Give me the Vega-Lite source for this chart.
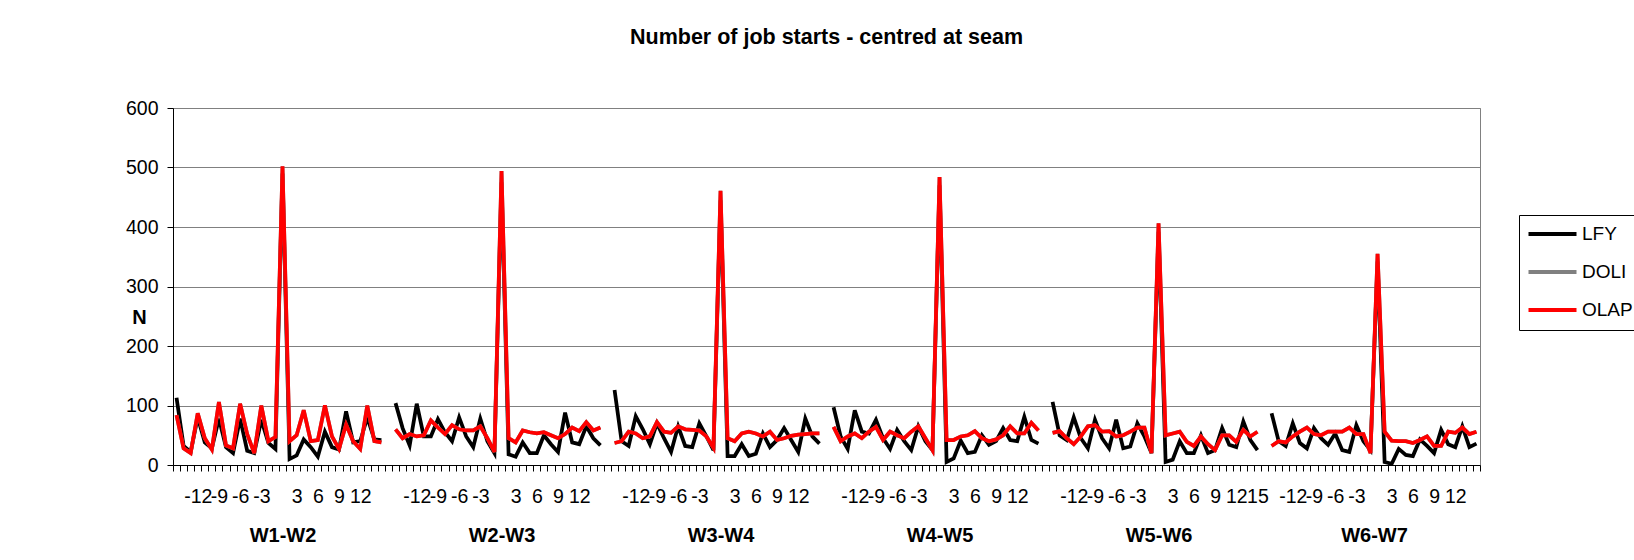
{
  "$schema": "https://vega.github.io/schema/vega-lite/v6.json",
  "width": 1307,
  "height": 357,
  "autosize": {"type": "none"},
  "padding": {"left": 173, "top": 108, "right": 154, "bottom": 95},
  "background": "white",
  "title": {
    "text": "Number of job starts - centred at seam",
    "fontSize": 21.5,
    "fontWeight": "bold",
    "font": "Liberation Sans",
    "color": "black",
    "anchor": "middle",
    "frame": "group",
    "offset": 50
  },
  "data": {
    "values": [
      {"g":"W1-W2","i":0,"LFY":113,"DOLI":84,"OLAP":84},
      {"g":"W1-W2","i":1,"LFY":32,"DOLI":28,"OLAP":28},
      {"g":"W1-W2","i":2,"LFY":22,"DOLI":20,"OLAP":20},
      {"g":"W1-W2","i":3,"LFY":80,"DOLI":87,"OLAP":87},
      {"g":"W1-W2","i":4,"LFY":38,"DOLI":45,"OLAP":45},
      {"g":"W1-W2","i":5,"LFY":28,"DOLI":26,"OLAP":26},
      {"g":"W1-W2","i":6,"LFY":78,"DOLI":106,"OLAP":106},
      {"g":"W1-W2","i":7,"LFY":30,"DOLI":33,"OLAP":33},
      {"g":"W1-W2","i":8,"LFY":20,"DOLI":28,"OLAP":28},
      {"g":"W1-W2","i":9,"LFY":78,"DOLI":103,"OLAP":103},
      {"g":"W1-W2","i":10,"LFY":24,"DOLI":52,"OLAP":52},
      {"g":"W1-W2","i":11,"LFY":20,"DOLI":20,"OLAP":20},
      {"g":"W1-W2","i":12,"LFY":76,"DOLI":100,"OLAP":100},
      {"g":"W1-W2","i":13,"LFY":37,"DOLI":40,"OLAP":40},
      {"g":"W1-W2","i":14,"LFY":27,"DOLI":47,"OLAP":47},
      {"g":"W1-W2","i":15,"LFY":490,"DOLI":502,"OLAP":502},
      {"g":"W1-W2","i":16,"LFY":10,"DOLI":40,"OLAP":40},
      {"g":"W1-W2","i":17,"LFY":16,"DOLI":50,"OLAP":50},
      {"g":"W1-W2","i":18,"LFY":43,"DOLI":92,"OLAP":92},
      {"g":"W1-W2","i":19,"LFY":30,"DOLI":40,"OLAP":40},
      {"g":"W1-W2","i":20,"LFY":14,"DOLI":42,"OLAP":42},
      {"g":"W1-W2","i":21,"LFY":56,"DOLI":100,"OLAP":100},
      {"g":"W1-W2","i":22,"LFY":30,"DOLI":48,"OLAP":48},
      {"g":"W1-W2","i":23,"LFY":26,"DOLI":27,"OLAP":27},
      {"g":"W1-W2","i":24,"LFY":90,"DOLI":68,"OLAP":68},
      {"g":"W1-W2","i":25,"LFY":38,"DOLI":40,"OLAP":40},
      {"g":"W1-W2","i":26,"LFY":40,"DOLI":27,"OLAP":27},
      {"g":"W1-W2","i":27,"LFY":80,"DOLI":100,"OLAP":100},
      {"g":"W1-W2","i":28,"LFY":43,"DOLI":40,"OLAP":40},
      {"g":"W1-W2","i":29,"LFY":42,"DOLI":38,"OLAP":38},
      {"g":"W2-W3","i":31,"LFY":104,"DOLI":60,"OLAP":60},
      {"g":"W2-W3","i":32,"LFY":62,"DOLI":45,"OLAP":45},
      {"g":"W2-W3","i":33,"LFY":33,"DOLI":52,"OLAP":52},
      {"g":"W2-W3","i":34,"LFY":103,"DOLI":48,"OLAP":48},
      {"g":"W2-W3","i":35,"LFY":48,"DOLI":50,"OLAP":50},
      {"g":"W2-W3","i":36,"LFY":48,"DOLI":75,"OLAP":75},
      {"g":"W2-W3","i":37,"LFY":77,"DOLI":63,"OLAP":63},
      {"g":"W2-W3","i":38,"LFY":55,"DOLI":52,"OLAP":52},
      {"g":"W2-W3","i":39,"LFY":40,"DOLI":67,"OLAP":67},
      {"g":"W2-W3","i":40,"LFY":80,"DOLI":60,"OLAP":60},
      {"g":"W2-W3","i":41,"LFY":48,"DOLI":58,"OLAP":58},
      {"g":"W2-W3","i":42,"LFY":30,"DOLI":58,"OLAP":58},
      {"g":"W2-W3","i":43,"LFY":78,"DOLI":65,"OLAP":65},
      {"g":"W2-W3","i":44,"LFY":40,"DOLI":45,"OLAP":45},
      {"g":"W2-W3","i":45,"LFY":20,"DOLI":22,"OLAP":22},
      {"g":"W2-W3","i":46,"LFY":475,"DOLI":494,"OLAP":494},
      {"g":"W2-W3","i":47,"LFY":18,"DOLI":45,"OLAP":45},
      {"g":"W2-W3","i":48,"LFY":14,"DOLI":38,"OLAP":38},
      {"g":"W2-W3","i":49,"LFY":38,"DOLI":58,"OLAP":58},
      {"g":"W2-W3","i":50,"LFY":20,"DOLI":55,"OLAP":55},
      {"g":"W2-W3","i":51,"LFY":20,"DOLI":53,"OLAP":53},
      {"g":"W2-W3","i":52,"LFY":50,"DOLI":55,"OLAP":55},
      {"g":"W2-W3","i":53,"LFY":35,"DOLI":50,"OLAP":50},
      {"g":"W2-W3","i":54,"LFY":22,"DOLI":45,"OLAP":45},
      {"g":"W2-W3","i":55,"LFY":88,"DOLI":52,"OLAP":52},
      {"g":"W2-W3","i":56,"LFY":38,"DOLI":63,"OLAP":63},
      {"g":"W2-W3","i":57,"LFY":35,"DOLI":57,"OLAP":57},
      {"g":"W2-W3","i":58,"LFY":65,"DOLI":72,"OLAP":72},
      {"g":"W2-W3","i":59,"LFY":45,"DOLI":58,"OLAP":58},
      {"g":"W2-W3","i":60,"LFY":33,"DOLI":63,"OLAP":63},
      {"g":"W3-W4","i":62,"LFY":126,"DOLI":37,"OLAP":37},
      {"g":"W3-W4","i":63,"LFY":40,"DOLI":40,"OLAP":40},
      {"g":"W3-W4","i":64,"LFY":32,"DOLI":56,"OLAP":56},
      {"g":"W3-W4","i":65,"LFY":82,"DOLI":53,"OLAP":53},
      {"g":"W3-W4","i":66,"LFY":60,"DOLI":45,"OLAP":45},
      {"g":"W3-W4","i":67,"LFY":35,"DOLI":48,"OLAP":48},
      {"g":"W3-W4","i":68,"LFY":70,"DOLI":72,"OLAP":72},
      {"g":"W3-W4","i":69,"LFY":45,"DOLI":56,"OLAP":56},
      {"g":"W3-W4","i":70,"LFY":22,"DOLI":54,"OLAP":54},
      {"g":"W3-W4","i":71,"LFY":65,"DOLI":65,"OLAP":65},
      {"g":"W3-W4","i":72,"LFY":32,"DOLI":60,"OLAP":60},
      {"g":"W3-W4","i":73,"LFY":30,"DOLI":59,"OLAP":59},
      {"g":"W3-W4","i":74,"LFY":70,"DOLI":58,"OLAP":58},
      {"g":"W3-W4","i":75,"LFY":48,"DOLI":48,"OLAP":48},
      {"g":"W3-W4","i":76,"LFY":25,"DOLI":29,"OLAP":29},
      {"g":"W3-W4","i":77,"LFY":445,"DOLI":461,"OLAP":461},
      {"g":"W3-W4","i":78,"LFY":15,"DOLI":45,"OLAP":45},
      {"g":"W3-W4","i":79,"LFY":15,"DOLI":40,"OLAP":40},
      {"g":"W3-W4","i":80,"LFY":35,"DOLI":53,"OLAP":53},
      {"g":"W3-W4","i":81,"LFY":15,"DOLI":56,"OLAP":56},
      {"g":"W3-W4","i":82,"LFY":19,"DOLI":53,"OLAP":53},
      {"g":"W3-W4","i":83,"LFY":53,"DOLI":48,"OLAP":48},
      {"g":"W3-W4","i":84,"LFY":30,"DOLI":56,"OLAP":56},
      {"g":"W3-W4","i":85,"LFY":42,"DOLI":42,"OLAP":42},
      {"g":"W3-W4","i":86,"LFY":62,"DOLI":45,"OLAP":45},
      {"g":"W3-W4","i":87,"LFY":42,"DOLI":49,"OLAP":49},
      {"g":"W3-W4","i":88,"LFY":22,"DOLI":51,"OLAP":51},
      {"g":"W3-W4","i":89,"LFY":78,"DOLI":52,"OLAP":52},
      {"g":"W3-W4","i":90,"LFY":48,"DOLI":53,"OLAP":53},
      {"g":"W3-W4","i":91,"LFY":36,"DOLI":53,"OLAP":53},
      {"g":"W4-W5","i":93,"LFY":97,"DOLI":64,"OLAP":64},
      {"g":"W4-W5","i":94,"LFY":48,"DOLI":40,"OLAP":40},
      {"g":"W4-W5","i":95,"LFY":27,"DOLI":48,"OLAP":48},
      {"g":"W4-W5","i":96,"LFY":92,"DOLI":53,"OLAP":53},
      {"g":"W4-W5","i":97,"LFY":56,"DOLI":45,"OLAP":45},
      {"g":"W4-W5","i":98,"LFY":53,"DOLI":56,"OLAP":56},
      {"g":"W4-W5","i":99,"LFY":76,"DOLI":64,"OLAP":64},
      {"g":"W4-W5","i":100,"LFY":45,"DOLI":42,"OLAP":42},
      {"g":"W4-W5","i":101,"LFY":27,"DOLI":56,"OLAP":56},
      {"g":"W4-W5","i":102,"LFY":59,"DOLI":50,"OLAP":50},
      {"g":"W4-W5","i":103,"LFY":40,"DOLI":45,"OLAP":45},
      {"g":"W4-W5","i":104,"LFY":25,"DOLI":56,"OLAP":56},
      {"g":"W4-W5","i":105,"LFY":65,"DOLI":65,"OLAP":65},
      {"g":"W4-W5","i":106,"LFY":40,"DOLI":45,"OLAP":45},
      {"g":"W4-W5","i":107,"LFY":25,"DOLI":25,"OLAP":25},
      {"g":"W4-W5","i":108,"LFY":470,"DOLI":484,"OLAP":484},
      {"g":"W4-W5","i":109,"LFY":5,"DOLI":42,"OLAP":42},
      {"g":"W4-W5","i":110,"LFY":11,"DOLI":42,"OLAP":42},
      {"g":"W4-W5","i":111,"LFY":41,"DOLI":48,"OLAP":48},
      {"g":"W4-W5","i":112,"LFY":20,"DOLI":50,"OLAP":50},
      {"g":"W4-W5","i":113,"LFY":22,"DOLI":57,"OLAP":57},
      {"g":"W4-W5","i":114,"LFY":50,"DOLI":45,"OLAP":45},
      {"g":"W4-W5","i":115,"LFY":34,"DOLI":40,"OLAP":40},
      {"g":"W4-W5","i":116,"LFY":40,"DOLI":43,"OLAP":43},
      {"g":"W4-W5","i":117,"LFY":62,"DOLI":50,"OLAP":50},
      {"g":"W4-W5","i":118,"LFY":42,"DOLI":65,"OLAP":65},
      {"g":"W4-W5","i":119,"LFY":40,"DOLI":53,"OLAP":53},
      {"g":"W4-W5","i":120,"LFY":81,"DOLI":53,"OLAP":53},
      {"g":"W4-W5","i":121,"LFY":42,"DOLI":71,"OLAP":71},
      {"g":"W4-W5","i":122,"LFY":36,"DOLI":58,"OLAP":58},
      {"g":"W5-W6","i":124,"LFY":106,"DOLI":54,"OLAP":54},
      {"g":"W5-W6","i":125,"LFY":50,"DOLI":57,"OLAP":57},
      {"g":"W5-W6","i":126,"LFY":42,"DOLI":45,"OLAP":45},
      {"g":"W5-W6","i":127,"LFY":80,"DOLI":35,"OLAP":35},
      {"g":"W5-W6","i":128,"LFY":45,"DOLI":48,"OLAP":48},
      {"g":"W5-W6","i":129,"LFY":28,"DOLI":65,"OLAP":65},
      {"g":"W5-W6","i":130,"LFY":76,"DOLI":67,"OLAP":67},
      {"g":"W5-W6","i":131,"LFY":45,"DOLI":56,"OLAP":56},
      {"g":"W5-W6","i":132,"LFY":28,"DOLI":57,"OLAP":57},
      {"g":"W5-W6","i":133,"LFY":76,"DOLI":48,"OLAP":48},
      {"g":"W5-W6","i":134,"LFY":28,"DOLI":50,"OLAP":50},
      {"g":"W5-W6","i":135,"LFY":31,"DOLI":56,"OLAP":56},
      {"g":"W5-W6","i":136,"LFY":70,"DOLI":63,"OLAP":63},
      {"g":"W5-W6","i":137,"LFY":48,"DOLI":63,"OLAP":63},
      {"g":"W5-W6","i":138,"LFY":20,"DOLI":20,"OLAP":20},
      {"g":"W5-W6","i":139,"LFY":392,"DOLI":406,"OLAP":406},
      {"g":"W5-W6","i":140,"LFY":5,"DOLI":50,"OLAP":50},
      {"g":"W5-W6","i":141,"LFY":9,"DOLI":53,"OLAP":53},
      {"g":"W5-W6","i":142,"LFY":40,"DOLI":56,"OLAP":56},
      {"g":"W5-W6","i":143,"LFY":20,"DOLI":39,"OLAP":39},
      {"g":"W5-W6","i":144,"LFY":20,"DOLI":32,"OLAP":32},
      {"g":"W5-W6","i":145,"LFY":50,"DOLI":48,"OLAP":48},
      {"g":"W5-W6","i":146,"LFY":20,"DOLI":35,"OLAP":35},
      {"g":"W5-W6","i":147,"LFY":25,"DOLI":25,"OLAP":25},
      {"g":"W5-W6","i":148,"LFY":62,"DOLI":50,"OLAP":50},
      {"g":"W5-W6","i":149,"LFY":34,"DOLI":50,"OLAP":50},
      {"g":"W5-W6","i":150,"LFY":30,"DOLI":39,"OLAP":39},
      {"g":"W5-W6","i":151,"LFY":73,"DOLI":59,"OLAP":59},
      {"g":"W5-W6","i":152,"LFY":42,"DOLI":48,"OLAP":48},
      {"g":"W5-W6","i":153,"LFY":25,"DOLI":56,"OLAP":56},
      {"g":"W6-W7","i":155,"LFY":87,"DOLI":32,"OLAP":32},
      {"g":"W6-W7","i":156,"LFY":40,"DOLI":40,"OLAP":40},
      {"g":"W6-W7","i":157,"LFY":32,"DOLI":38,"OLAP":38},
      {"g":"W6-W7","i":158,"LFY":70,"DOLI":48,"OLAP":48},
      {"g":"W6-W7","i":159,"LFY":37,"DOLI":56,"OLAP":56},
      {"g":"W6-W7","i":160,"LFY":28,"DOLI":63,"OLAP":63},
      {"g":"W6-W7","i":161,"LFY":62,"DOLI":52,"OLAP":52},
      {"g":"W6-W7","i":162,"LFY":45,"DOLI":50,"OLAP":50},
      {"g":"W6-W7","i":163,"LFY":34,"DOLI":56,"OLAP":56},
      {"g":"W6-W7","i":164,"LFY":53,"DOLI":56,"OLAP":56},
      {"g":"W6-W7","i":165,"LFY":25,"DOLI":56,"OLAP":56},
      {"g":"W6-W7","i":166,"LFY":22,"DOLI":63,"OLAP":63},
      {"g":"W6-W7","i":167,"LFY":67,"DOLI":52,"OLAP":52},
      {"g":"W6-W7","i":168,"LFY":40,"DOLI":52,"OLAP":52},
      {"g":"W6-W7","i":169,"LFY":25,"DOLI":20,"OLAP":20},
      {"g":"W6-W7","i":170,"LFY":342,"DOLI":355,"OLAP":355},
      {"g":"W6-W7","i":171,"LFY":5,"DOLI":56,"OLAP":56},
      {"g":"W6-W7","i":172,"LFY":2,"DOLI":41,"OLAP":41},
      {"g":"W6-W7","i":173,"LFY":27,"DOLI":40,"OLAP":40},
      {"g":"W6-W7","i":174,"LFY":17,"DOLI":40,"OLAP":40},
      {"g":"W6-W7","i":175,"LFY":15,"DOLI":37,"OLAP":37},
      {"g":"W6-W7","i":176,"LFY":43,"DOLI":42,"OLAP":42},
      {"g":"W6-W7","i":177,"LFY":32,"DOLI":48,"OLAP":48},
      {"g":"W6-W7","i":178,"LFY":20,"DOLI":32,"OLAP":32},
      {"g":"W6-W7","i":179,"LFY":59,"DOLI":32,"OLAP":32},
      {"g":"W6-W7","i":180,"LFY":35,"DOLI":56,"OLAP":56},
      {"g":"W6-W7","i":181,"LFY":30,"DOLI":54,"OLAP":54},
      {"g":"W6-W7","i":182,"LFY":65,"DOLI":63,"OLAP":63},
      {"g":"W6-W7","i":183,"LFY":30,"DOLI":52,"OLAP":52},
      {"g":"W6-W7","i":184,"LFY":36,"DOLI":56,"OLAP":56}
    ]
  },
  "transform": [{"fold": ["LFY", "DOLI", "OLAP"], "as": ["series", "N"]}],
  "encoding": {
    "y": {
      "field": "N",
      "type": "quantitative",
      "scale": {"domain": [0, 600], "nice": false, "zero": true},
      "axis": {
        "values": [0, 100, 200, 300, 400, 500, 600],
        "grid": true,
        "gridColor": "#808080",
        "gridWidth": 1,
        "domain": true,
        "domainColor": "black",
        "domainWidth": 1,
        "ticks": true,
        "tickColor": "black",
        "tickSize": 6,
        "labelFont": "Liberation Sans",
        "labelFontSize": 19.5,
        "labelColor": "black",
        "labelPadding": 9,
        "title": "N",
        "titleFont": "Liberation Sans",
        "titleFontSize": 20,
        "titleFontWeight": "bold",
        "titleColor": "black",
        "titleAngle": 0,
        "titleAlign": "center",
        "titleBaseline": "middle",
        "titleX": -34,
        "titleY": 209
      }
    },
    "color": {
      "field": "series",
      "type": "nominal",
      "scale": {"domain": ["LFY", "DOLI", "OLAP"], "range": ["#000000", "#808080", "#FF0000"]},
      "legend": {
        "orient": "none",
        "legendX": 1346,
        "legendY": 107,
        "title": null,
        "symbolType": "stroke",
        "symbolSize": 2304,
        "symbolStrokeWidth": 4,
        "labelFont": "Liberation Sans",
        "labelFontSize": 19,
        "labelColor": "black",
        "labelOffset": 1.5,
        "labelLimit": 0,
        "rowPadding": 18,
        "padding": 9.5,
        "strokeColor": "black",
        "fillColor": "white",
        "encode": {
          "symbols": {"update": {"x": {"value": 24}, "y": {"value": 9.5}}},
          "labels": {"update": {"y": {"value": 9.5}}}
        }
      }
    },
    "detail": {"field": "g", "type": "nominal"}
  },
  "layer": [
    {
      "transform": [{"filter": "datum.series === 'LFY'"}],
      "mark": {"type": "line", "strokeWidth": 3.75},
      "encoding": {
        "x": {
          "field": "i",
          "type": "quantitative",
          "scale": {"domain": [-0.5, 184.5], "nice": false, "zero": false},
          "axis": {
            "orient": "bottom",
            "title": null,
            "grid": false,
            "labels": false,
            "ticks": true,
            "tickSize": 6,
            "tickColor": "black",
            "tickWidth": 1,
            "domain": true,
            "domainColor": "black",
            "domainWidth": 1,
            "values": [-0.5,0.5,1.5,2.5,3.5,4.5,5.5,6.5,7.5,8.5,9.5,10.5,11.5,12.5,13.5,14.5,15.5,16.5,17.5,18.5,19.5,20.5,21.5,22.5,23.5,24.5,25.5,26.5,27.5,28.5,29.5,30.5,31.5,32.5,33.5,34.5,35.5,36.5,37.5,38.5,39.5,40.5,41.5,42.5,43.5,44.5,45.5,46.5,47.5,48.5,49.5,50.5,51.5,52.5,53.5,54.5,55.5,56.5,57.5,58.5,59.5,60.5,61.5,62.5,63.5,64.5,65.5,66.5,67.5,68.5,69.5,70.5,71.5,72.5,73.5,74.5,75.5,76.5,77.5,78.5,79.5,80.5,81.5,82.5,83.5,84.5,85.5,86.5,87.5,88.5,89.5,90.5,91.5,92.5,93.5,94.5,95.5,96.5,97.5,98.5,99.5,100.5,101.5,102.5,103.5,104.5,105.5,106.5,107.5,108.5,109.5,110.5,111.5,112.5,113.5,114.5,115.5,116.5,117.5,118.5,119.5,120.5,121.5,122.5,123.5,124.5,125.5,126.5,127.5,128.5,129.5,130.5,131.5,132.5,133.5,134.5,135.5,136.5,137.5,138.5,139.5,140.5,141.5,142.5,143.5,144.5,145.5,146.5,147.5,148.5,149.5,150.5,151.5,152.5,153.5,154.5,155.5,156.5,157.5,158.5,159.5,160.5,161.5,162.5,163.5,164.5,165.5,166.5,167.5,168.5,169.5,170.5,171.5,172.5,173.5,174.5,175.5,176.5,177.5,178.5,179.5,180.5,181.5,182.5,183.5,184.5]
          }
        }
      }
    },
    {
      "transform": [{"filter": "datum.series === 'DOLI'"}],
      "mark": {"type": "line", "strokeWidth": 3.75},
      "encoding": {
        "x": {
          "field": "i",
          "type": "quantitative",
          "scale": {"domain": [-0.5, 184.5], "nice": false, "zero": false},
          "axis": {
            "orient": "bottom",
            "title": null,
            "grid": false,
            "domain": false,
            "ticks": false,
            "tickSize": 0,
            "values": [3,6,9,12,17,20,23,26,34,37,40,43,48,51,54,57,65,68,71,74,79,82,85,88,96,99,102,105,110,113,116,119,127,130,133,136,141,144,147,150,153,158,161,164,167,172,175,178,181],
            "labelExpr": "(datum.value % 31) < 15 ? '' + ((datum.value % 31) - 15) : '' + ((datum.value % 31) - 14)",
            "labelFont": "Liberation Sans",
            "labelFontSize": 19.5,
            "labelColor": "black",
            "labelPadding": 22.5,
            "labelOverlap": false,
            "labelFlush": false,
            "labelBound": false
          }
        }
      }
    },
    {
      "transform": [{"filter": "datum.series === 'OLAP'"}],
      "mark": {"type": "line", "strokeWidth": 3.75},
      "encoding": {
        "x": {
          "field": "i",
          "type": "quantitative",
          "scale": {"domain": [-0.5, 184.5], "nice": false, "zero": false},
          "axis": {
            "orient": "bottom",
            "title": null,
            "grid": false,
            "domain": false,
            "ticks": false,
            "tickSize": 0,
            "values": [15, 46, 77, 108, 139, 169.5],
            "labelExpr": "['W1-W2','W2-W3','W3-W4','W4-W5','W5-W6','W6-W7'][floor(datum.value / 31)]",
            "labelFont": "Liberation Sans",
            "labelFontSize": 20,
            "labelFontWeight": "bold",
            "labelColor": "black",
            "labelPadding": 60.5,
            "labelOverlap": false,
            "labelFlush": false,
            "labelBound": false
          }
        }
      }
    }
  ],
  "resolve": {"axis": {"x": "independent"}},
  "config": {
    "view": {"stroke": "#808080", "strokeWidth": 1},
    "font": "Liberation Sans"
  }
}
